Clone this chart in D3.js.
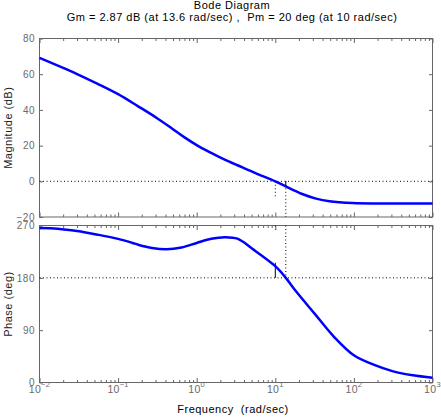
<!DOCTYPE html>
<html>
<head>
<meta charset="utf-8">
<script src="https://cdn.jsdelivr.net/npm/d3@7"></script>
<style>
  body { margin: 0; background: #fff; }
  svg { display: block; font-family: "Liberation Sans", Arial, sans-serif; }
</style>
</head>
<body>
<div id="chart"></div>
<script>
// values
const magFreq = [0.01, 0.03, 0.055, 0.1, 0.18, 0.31, 0.475, 0.7, 1, 1.53, 2.27, 3.3, 5.6, 10, 13.6, 22, 33, 49, 97, 200, 1000];
const magDb   = [69.1, 60.1, 54.6, 48.8, 42.0, 35.5, 29.9, 24.6, 20.3, 15.9, 12.1, 9.0, 4.6, 0, -2.87, -7.1, -9.7, -11.2, -12.2, -12.45, -12.5];

const phaseFreq = [0.01, 0.017, 0.03, 0.055, 0.1, 0.15, 0.18, 0.27, 0.41, 0.64, 1, 1.53, 2.3, 3.3, 5.1, 10, 13.6, 17.8, 31.6, 56.2, 100, 178, 316, 562, 1000];
const phaseDeg  = [265.7, 264.5, 260.5, 254.2, 247.0, 240.4, 237.0, 231.3, 229.0, 232.0, 240.0, 247.3, 250.0, 247.3, 230.0, 200.0, 180, 159.0, 118.5, 78.2, 46.8, 30.6, 19.2, 12.4, 8.3];

const magTicks = [-20, 0, 20, 40, 60, 80];
const phaseTicks = [0, 90, 180, 270];
const decades = [-2, -1, 0, 1, 2, 3];

const wpm = 10, wcg = 13.6, pm = 20, gm = 2.87;

const W = 441, H = 417;
const left = 39.5, right = 432.5;

const svg = d3.select("#chart").append("svg")
  .attr("width", W)
  .attr("height", H)
  .attr("viewBox", `0 0 ${W} ${H}`);

const x = d3.scaleLog().domain([0.01, 1000]).range([left, right]);
const yMag = d3.scaleLinear().domain([-20, 80]).range([217, 38.5]);
const yPh = d3.scaleLinear().domain([0, 270]).range([382.5, 225.5]);

const minors = [];
decades.slice(0, -1).forEach(d => {
  for (let k = 2; k <= 9; k++) minors.push(k * Math.pow(10, d));
});
const majors = decades.map(d => Math.pow(10, d));

function drawPanel(y, ticks, fmt) {
  const g = svg.append("g");
  const [y0, y1] = y.range();

  // frequency ticks, bottom and top edges, pointing inward
  [[d3.axisBottom, y0], [d3.axisTop, y1]].forEach(([ax, pos]) => {
    g.append("g").attr("transform", `translate(0,${pos})`)
      .call(ax(x).tickValues(majors).tickSize(-4.5).tickFormat(""))
      .call(s => s.select(".domain").remove());
    g.append("g").attr("transform", `translate(0,${pos})`)
      .call(ax(x).tickValues(minors).tickSize(-2.5).tickFormat(""))
      .call(s => s.select(".domain").remove());
  });

  g.append("g").attr("transform", `translate(${left},0)`)
    .call(d3.axisLeft(y).tickValues(ticks).tickSize(-3.5).tickPadding(4.5).tickFormat(fmt))
    .call(s => s.select(".domain").remove())
    .call(s => s.selectAll("text")
      .attr("fill", "#6a6a6a")
      .style("font-size", "10px")
      .style("letter-spacing", "0.5px")
      .style("font-family", "Liberation Sans, Arial, sans-serif"));

  g.append("g").attr("transform", `translate(${right},0)`)
    .call(d3.axisRight(y).tickValues(ticks).tickSize(-3.5).tickFormat(""))
    .call(s => s.select(".domain").remove());

  g.selectAll(".tick line").attr("stroke", "#666");

  g.append("rect")
    .attr("x", left).attr("y", y1)
    .attr("width", right - left).attr("height", y0 - y1)
    .attr("fill", "none")
    .attr("stroke", "#666")
    .attr("stroke-width", 1);
  return g;
}

const gMag = drawPanel(yMag, magTicks, d => d < 0 ? "\u221220" : d);
const gPh = drawPanel(yPh, phaseTicks, d => d);

const dotted = (g, x1, y1, x2, y2) => g.append("line")
  .attr("x1", x1).attr("y1", y1).attr("x2", x2).attr("y2", y2)
  .attr("stroke", "#000").attr("stroke-width", 1)
  .attr("stroke-dasharray", "1,2.5");

// margin markers
dotted(gMag, left, yMag(0), right, yMag(0));
dotted(gMag, x(wpm), yMag(0), x(wpm), yMag(-9.5));
dotted(gMag, x(wcg), yMag(0), x(wcg), yMag(-20));
dotted(gPh, left, yPh(180), right, yPh(180));
dotted(gPh, x(wpm), yPh(270), x(wpm), yPh(263));
dotted(gPh, x(wcg), yPh(270), x(wcg), yPh(180));

gMag.append("line")
  .attr("x1", x(wcg)).attr("x2", x(wcg))
  .attr("y1", yMag(0)).attr("y2", yMag(-gm))
  .attr("stroke", "#000");
gPh.append("line")
  .attr("x1", x(wpm)).attr("x2", x(wpm))
  .attr("y1", yPh(180)).attr("y2", yPh(180 + pm + 6))
  .attr("stroke", "#000");

// response curves
const magLine = d3.line()
  .x((d, i) => x(magFreq[i]))
  .y(d => yMag(d))
  .curve(d3.curveCatmullRom.alpha(0.5));
const phLine = d3.line()
  .x((d, i) => x(phaseFreq[i]))
  .y(d => yPh(d))
  .curve(d3.curveCatmullRom.alpha(0.5));

gMag.append("path")
  .attr("d", magLine(magDb))
  .attr("fill", "none")
  .attr("stroke", "#0000ff")
  .attr("stroke-width", 2.5);

gPh.append("path")
  .attr("d", phLine(phaseDeg))
  .attr("fill", "none")
  .attr("stroke", "#0000ff")
  .attr("stroke-width", 2.5);

// decade labels with superscript exponents
const xl = svg.append("g");
decades.forEach(d => {
  const t = xl.append("text")
    .attr("x", x(Math.pow(10, d)))
    .attr("y", 393)
    .attr("text-anchor", "middle")
    .attr("fill", "#6a6a6a")
    .style("font-size", "10.5px")
    .style("letter-spacing", "0.3px");
  t.append("tspan").text("10");
  t.append("tspan")
    .attr("dy", -6)
    .style("font-size", "7.5px")
    .text(d < 0 ? "\u2212" + (-d) : d);
});

// titles and labels
const label = (txt, xPos, yPos) => svg.append("text")
  .attr("x", xPos).attr("y", yPos)
  .attr("text-anchor", "middle")
  .attr("xml:space", "preserve")
  .style("font-size", "11px")
  .style("letter-spacing", "0.5px")
  .text(txt);

label("Bode Diagram", 232, 9);
label("Gm = 2.87 dB (at 13.6 rad/sec) ,  Pm = 20 deg (at 10 rad/sec)", 232, 21);
label("Frequency  (rad/sec)", 233, 413);

label("Magnitude (dB)", 0, 0)
  .attr("transform", `translate(11.5,${(yMag(80) + yMag(-20)) / 2}) rotate(-90)`)
  .attr("fill", "#222");

label("Phase (deg)", 0, 0)
  .attr("transform", `translate(11.5,${(yPh(0) + yPh(270)) / 2}) rotate(-90)`)
  .attr("fill", "#222");
</script>
</body>
</html>
